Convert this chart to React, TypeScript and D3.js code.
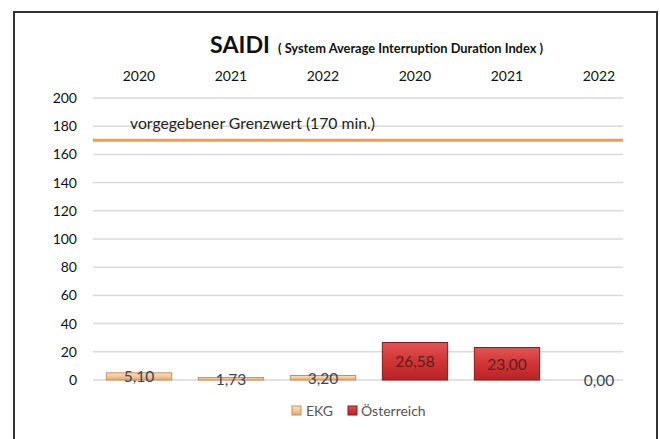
import React from 'react';
import * as d3 from 'd3';

const width = 660;
const height = 439;

// categories along x (year labels at the top)
const years = ['2020', '2021', '2022', '2020', '2021', '2022'];
// series
const ekg = [5.10, 1.73, 3.20, null, null, null];
const oesterreich = [null, null, null, 26.58, 23.00, 0.00];
const yTicks = [0, 20, 40, 60, 80, 100, 120, 140, 160, 180, 200];
const grenzwert = 170;

const font = 'Lato, "Open Sans", sans-serif';

const fmt = (v: number) => v.toFixed(2).replace('.', ',');

export default function App() {
    const plotLeft = 93;
    const plotRight = 623;

    const x = d3.scaleBand<number>()
        .domain(d3.range(years.length))
        .range([93, 645])
        .paddingInner(0.29)
        .paddingOuter(0.145);

    const y = d3.scaleLinear().domain([0, 200]).range([380, 98]);

    const bars: { i: number, v: number, s: string }[] = [];
    ekg.forEach((v, i) => { if (v !== null) bars.push({ i, v, s: 'ekg' }); });
    oesterreich.forEach((v, i) => { if (v !== null) bars.push({ i, v, s: 'at' }); });

    return (
        <svg width={width} height={height} style={{ position: 'absolute', left: 0, top: 0, fontFamily: font }}>
            <defs>
                <linearGradient id="gEkg" x1="0" y1="0" x2="0" y2="1">
                    <stop offset="0" stopColor="#fde0bf" />
                    <stop offset="0.5" stopColor="#f6c896" />
                    <stop offset="1" stopColor="#e2a874" />
                </linearGradient>
                <linearGradient id="gAt" x1="0" y1="0" x2="0" y2="1">
                    <stop offset="0" stopColor="#e25454" />
                    <stop offset="0.5" stopColor="#d23434" />
                    <stop offset="1" stopColor="#b82424" />
                </linearGradient>
            </defs>
            <rect x={0} y={0} width={width} height={height} fill="#fff" />
            <rect x={14} y={12} width={643} height={height} fill="none" stroke="#333" strokeWidth={2} />

            {/* title */}
            <text x={210} y={53} fontSize={23} fontWeight="bold" fill="#111" textLength={60} lengthAdjust="spacingAndGlyphs">SAIDI</text>
            <text x={278} y={53} fontSize={12.5} fontWeight="bold" fill="#111" textLength={265} lengthAdjust="spacingAndGlyphs">
                {'( System Average Interruption  Duration Index )'}
            </text>

            {/* year labels */}
            {years.map((yr, i) => (
                <text key={'yr' + i} x={x(i)! + x.bandwidth() / 2} y={81} fontSize={14}
                    textAnchor="middle" fill="#111">{yr}</text>
            ))}

            {/* grid */}
            {yTicks.map(t => (
                <g key={'t' + t}>
                    <line x1={plotLeft} x2={plotRight} y1={y(t)} y2={y(t)} stroke="#d9d9d9" strokeWidth={1.5} />
                    <text x={77} y={y(t) + 5} fontSize={14} textAnchor="end" fill="#111">{t}</text>
                </g>
            ))}

            {/* threshold line */}
            <line x1={plotLeft} x2={plotRight} y1={y(grenzwert)} y2={y(grenzwert)} stroke="#f39a4c" strokeWidth={3} />
            <text x={130} y={129} fontSize={15} fill="#222" textLength={245} lengthAdjust="spacingAndGlyphs">
                vorgegebener Grenzwert (170 min.)
            </text>

            {/* bars */}
            {bars.map(b => {
                const h = y(0) - y(b.v);
                if (h <= 0) return null;
                return (
                    <rect key={'b' + b.i} x={x(b.i)} y={y(b.v)} width={x.bandwidth()} height={h}
                        fill={b.s === 'ekg' ? 'url(#gEkg)' : 'url(#gAt)'}
                        stroke={b.s === 'ekg' ? '#c58f5e' : '#7f1a1a'} strokeWidth={1} />
                );
            })}
            {bars.map(b => (
                <text key={'l' + b.i} x={x(b.i)! + x.bandwidth() / 2} y={(y(0) + y(b.v)) / 2 + 6}
                    fontSize={15.5} textAnchor="middle"
                    fill={b.s === 'at' && b.v > 0 ? '#5a1e1e' : '#3b4657'}>{fmt(b.v)}</text>
            ))}

            {/* legend */}
            <rect x={292} y={406} width={9} height={9} fill="url(#gEkg)" stroke="#c58f5e" />
            <text x={306} y={416} fontSize={14} fill="#555">EKG</text>
            <rect x={348} y={406} width={9} height={9} fill="url(#gAt)" stroke="#7f1a1a" />
            <text x={361} y={416} fontSize={14} fill="#555">Österreich</text>
        </svg>
    );
}
